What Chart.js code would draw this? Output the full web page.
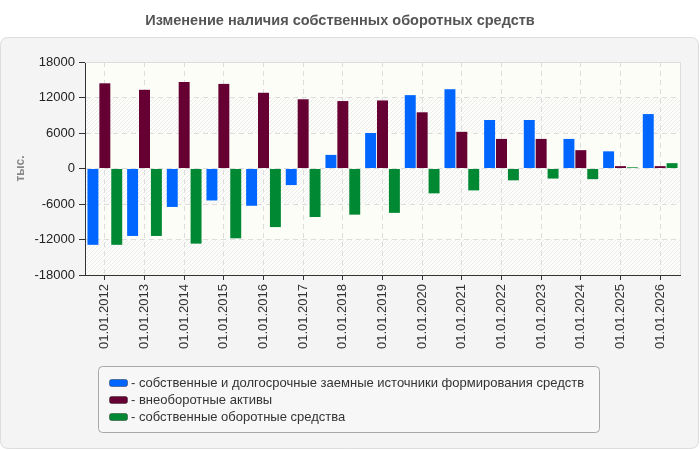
<!DOCTYPE html>
<html>
<head>
<meta charset="utf-8">
<script src="https://cdn.jsdelivr.net/npm/chart.js@4.4.0/dist/chart.umd.min.js"></script>
<style>
  html, body { margin: 0; padding: 0; background: #ffffff; }
  #wrap { width: 700px; height: 450px; }
</style>
</head>
<body>
<div id="wrap"><canvas id="myChart" width="700" height="450"></canvas></div>
<script>
const dates = ['01.01.2012', '01.01.2013', '01.01.2014', '01.01.2015', '01.01.2016', '01.01.2017', '01.01.2018',
    '01.01.2019', '01.01.2020', '01.01.2021', '01.01.2022', '01.01.2023', '01.01.2024', '01.01.2025', '01.01.2026'];
const sourcesVals = [-12900, -11400, -6500, -5400, -6300, -2800, 2300, 6000, 12400, 13400, 8200, 8200, 5000, 2900, 9200];
const fixedAssetsVals = [14400, 13300, 14600, 14300, 12800, 11700, 11400, 11500, 9500, 6200, 5000, 5000, 3100, 400, 400];
const workingCapVals = [-12900, -11400, -12700, -11800, -9900, -8200, -7800, -7500, -4200, -3700, -2000, -1700, -1800, 200, 900];
const yTicks = [-18000, -12000, -6000, 0, 6000, 12000, 18000];

const FONT = 'Arial, "Liberation Sans", sans-serif';
const ctx = document.getElementById('myChart');

// узор штриховки для полос фона
function makeHatch() {
    const c = document.createElement('canvas');
    c.width = 4; c.height = 4;
    const g = c.getContext('2d');
    g.fillStyle = '#fdfdfb';
    g.fillRect(0, 0, 4, 4);
    g.strokeStyle = '#ebebe8';
    g.lineWidth = 1;
    g.beginPath();
    g.moveTo(0, 4); g.lineTo(4, 0);
    g.moveTo(-1, 1); g.lineTo(1, -1);
    g.moveTo(3, 5); g.lineTo(5, 3);
    g.stroke();
    return c;
}
const hatchCanvas = makeHatch();

function roundRect(c, x, y, w, h, r) {
    c.beginPath();
    c.moveTo(x + r, y);
    c.lineTo(x + w - r, y);
    c.quadraticCurveTo(x + w, y, x + w, y + r);
    c.lineTo(x + w, y + h - r);
    c.quadraticCurveTo(x + w, y + h, x + w - r, y + h);
    c.lineTo(x + r, y + h);
    c.quadraticCurveTo(x, y + h, x, y + h - r);
    c.lineTo(x, y + r);
    c.quadraticCurveTo(x, y, x + r, y);
    c.closePath();
}

const backgroundPlugin = {
    id: 'panelBg',
    beforeDraw(chart) {
        const c = chart.ctx;
        const a = chart.chartArea;
        const y = chart.scales.y;
        c.save();
        c.fillStyle = '#ffffff';
        c.fillRect(0, 0, chart.width, chart.height);
        roundRect(c, 0.5, 37.5, 698, 411, 8);
        c.fillStyle = '#f4f4f4';
        c.fill();
        c.strokeStyle = '#dcdcdc';
        c.lineWidth = 1;
        c.stroke();
        // полосы: чередование простой и штрихованной
        const pat = c.createPattern(hatchCanvas, 'repeat');
        for (let i = 0; i < yTicks.length - 1; i++) {
            const top = y.getPixelForValue(yTicks[i + 1]);
            const bot = y.getPixelForValue(yTicks[i]);
            c.fillStyle = (i % 2 === 0) ? pat : '#fcfdf6';
            c.fillRect(a.left, top, a.right - a.left, bot - top);
        }
        c.restore();
    },
    afterDatasetsDraw(chart) {
        const c = chart.ctx;
        const a = chart.chartArea;
        c.save();
        c.strokeStyle = '#dddddd';
        c.lineWidth = 1;
        c.beginPath();
        c.moveTo(a.left, a.top + 0.5);
        c.lineTo(a.right + 0.5, a.top + 0.5);
        c.lineTo(a.right + 0.5, a.bottom);
        c.stroke();
        c.restore();
    },
    afterDraw(chart) {
        // легенда в рамке
        const c = chart.ctx;
        c.save();
        roundRect(c, 98.5, 366.5, 501, 66, 4);
        c.fillStyle = '#f7f7f7';
        c.fill();
        c.strokeStyle = '#a8a8a8';
        c.lineWidth = 1;
        c.stroke();
        c.font = '13px ' + FONT;
        c.textBaseline = 'middle';
        chart.data.datasets.forEach((ds, i) => {
            const cy = 383 + i * 17;
            roundRect(c, 109.5, cy - 3.5, 18, 7, 2);
            c.fillStyle = ds.backgroundColor;
            c.fill();
            c.strokeStyle = 'rgba(0,0,0,0.35)';
            c.stroke();
            c.fillStyle = '#333333';
            c.fillText('- ' + ds.label, 131, cy);
        });
        c.restore();
    }
};

const myChart = new Chart(ctx, {
    type: 'bar',
    data: {
        labels: dates,
        datasets: [{
            label: 'собственные и долгосрочные заемные источники формирования средств',
            data: sourcesVals,
            backgroundColor: '#0066ff'
        }, {
            label: 'внеоборотные активы',
            data: fixedAssetsVals,
            backgroundColor: '#660033'
        }, {
            label: 'собственные оборотные средства',
            data: workingCapVals,
            backgroundColor: '#008833'
        }]
    },
    options: {
        responsive: false,
        animation: false,
        layout: { padding: { left: 0, right: 20, top: 0, bottom: 0 } },
        datasets: {
            bar: { categoryPercentage: 0.9, barPercentage: 0.92 }
        },
        plugins: {
            legend: { display: false },
            tooltip: { enabled: false },
            title: {
                display: true,
                text: 'Изменение наличия собственных оборотных средств',
                color: '#555555',
                font: { family: FONT, size: 14.5, weight: 'bold', lineHeight: 1.2 },
                padding: { top: 12, bottom: 32.6 }
            }
        },
        scales: {
            x: {
                grid: {
                    offset: false,
                    color: '#dddddd',
                    tickColor: '#333333',
                    tickBorderDash: [1, 0],
                    tickLength: 5
                },
                border: { color: '#333333', width: 1, dash: [5, 4] },
                ticks: {
                    color: '#333333',
                    font: { family: FONT, size: 13 },
                    maxRotation: 90,
                    minRotation: 90,
                    padding: 4,
                    autoSkip: false
                },
                afterFit(scale) { scale.height = 175; }
            },
            y: {
                min: -18000,
                max: 18000,
                afterBuildTicks(scale) {
                    scale.ticks = yTicks.map(v => ({ value: v }));
                },
                grid: {
                    color: '#dddddd',
                    tickColor: '#333333',
                    tickBorderDash: [1, 0],
                    tickLength: 6
                },
                border: { color: '#333333', width: 1, dash: [5, 4] },
                ticks: {
                    color: '#222222',
                    font: { family: FONT, size: 13 },
                    padding: 4,
                    callback: v => String(v)
                },
                title: {
                    display: true,
                    text: 'тыс.',
                    color: '#888888',
                    font: { family: FONT, size: 12, weight: 'bold' },
                    padding: { top: 13, bottom: 0 }
                },
                afterFit(scale) { scale.width = 85; }
            }
        }
    },
    plugins: [backgroundPlugin]
});
</script>
</body>
</html>
